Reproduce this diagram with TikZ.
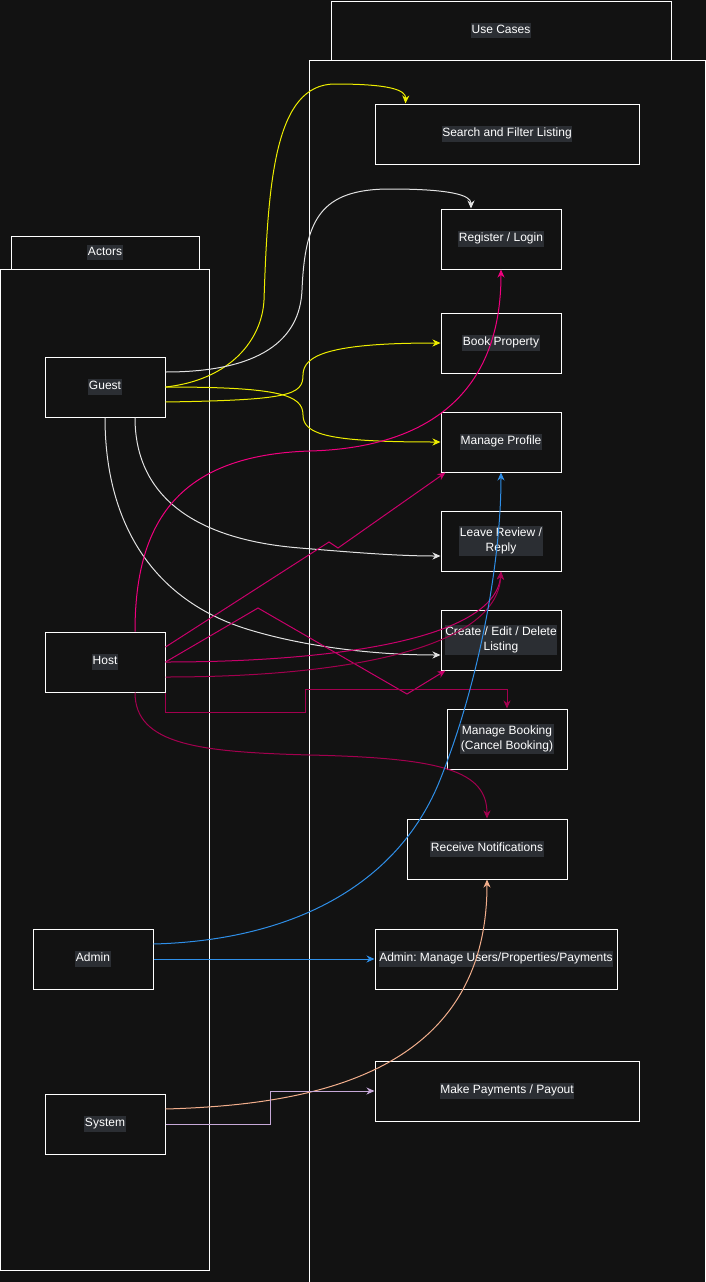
\documentclass[tikz,border=0pt]{standalone}
\usepackage{fontspec}
\setmainfont{Liberation Sans}
\usetikzlibrary{arrows.meta}
\frenchspacing
\definecolor{bgc}{HTML}{121212}
\definecolor{lblbg}{HTML}{2B2E33}
\definecolor{edgew}{HTML}{E2E2E2}
\definecolor{yel}{HTML}{EEEE00}
\definecolor{pinkA}{HTML}{F0007F}
\definecolor{pinkB}{HTML}{C8006A}
\definecolor{pinkC}{HTML}{A3004F}
\definecolor{blu}{HTML}{2F8FE8}
\definecolor{peach}{HTML}{F2AE8C}
\definecolor{lav}{HTML}{C6A8D8}
\newcommand{\lbl}[1]{{\setlength{\fboxsep}{0.6pt}\colorbox{lblbg}{\begin{tabular}{@{}c@{}}#1\end{tabular}}}}

\begin{document}
\begin{tikzpicture}[x=1pt,y=-1pt,font=\fontsize{12}{14.5}\selectfont,text=white,
  frame/.style={draw=white,fill=bgc,line width=1pt,inner sep=0pt},
  uc/.style={frame,minimum width=120pt,minimum height=60pt},
  link/.style={line width=1pt,-{Stealth[length=8pt,width=7pt,inset=2.5pt]}}]
  \useasboundingbox (0,0) rectangle (706,1282);
  \fill[bgc] (0,0) rectangle (706,1282);
  \clip (0,0) rectangle (706,1282);

  % swimlanes
  \node[frame,minimum width=396pt,minimum height=1230pt] (uclane) at (507,675) {};
  \node[frame,minimum width=340pt,minimum height=59pt] (uchead) at (501,30.5) {\lbl{Use Cases}};
  \node[frame,minimum width=209pt,minimum height=1001pt] (actlane) at (105,769.5) {};
  \node[frame,minimum width=188pt,minimum height=33pt] (acthead) at (105,252.5) {\lbl{Actors}};

  % actors
  \node[uc] (guest) at (105,387) {\lbl{Guest}};
  \node[uc] (host) at (105,662) {\lbl{Host}};
  \node[uc] (admin) at (93,959) {\lbl{Admin}};
  \node[uc] (system) at (105,1124) {\lbl{System}};

  % use cases
  \node[uc,minimum width=264pt] (search) at (507,134) {\lbl{Search and Filter Listing}};
  \node[uc] (register) at (501,239) {\lbl{Register / Login}};
  \node[uc] (book) at (501,343) {\lbl{Book Property}};
  \node[uc] (profile) at (501,442) {\lbl{Manage Profile}};
  \node[uc] (review) at (501,541) {\lbl{Leave Review /\\Reply}};
  \node[uc] (listing) at (501,640) {\lbl{Create / Edit / Delete\\Listing}};
  \node[uc] (booking) at (507,739) {\lbl{Manage Booking\\(Cancel Booking)}};
  \node[uc,minimum width=160pt] (notify) at (487,849) {\lbl{Receive Notifications}};
  \node[uc,minimum width=242pt] (adminuc) at (496,959) {\lbl{Admin: Manage Users/Properties/Payments}};
  \node[uc,minimum width=264pt] (payments) at (507,1091) {\lbl{Make Payments / Payout}};

  % guest
  \draw[link,yel] (guest.east) .. controls (230,380) and (262,340) .. (264,300)
    .. controls (268,180) and (275,84) .. (335,84) .. controls (390,84) and (406,90) .. ([xshift=31pt]search.north west);
  \draw[link,edgew] ([yshift=15pt]guest.east) .. controls (260,372) and (300,340) .. (302,290)
    .. controls (305,220) and (320,189) .. (390,189) .. controls (450,189) and (471,195) .. ([xshift=-30pt]register.north);
  \draw[link,yel] ([yshift=-15pt]guest.east) .. controls (290,400) and (303,395) .. (303,375)
    .. controls (303,355) and (330,343) .. (book.west);
  \draw[link,yel] (guest.east) .. controls (280,387) and (303,395) .. (303,415)
    .. controls (303,435) and (330,442) .. (profile.west);
  \draw[link,edgew] ([xshift=30pt]guest.south) .. controls (135,500) and (200,540) .. (300,548)
    .. controls (360,553) and (400,556) .. ([yshift=-15pt]review.west);
  \draw[link,edgew] (guest.south) .. controls (105,520) and (150,600) .. (250,630)
    .. controls (310,648) and (380,655) .. ([yshift=-15pt]listing.west);

  % host
  \draw[link,pinkA] ([xshift=30pt]host.north) .. controls (135,520) and (180,455) .. (310,451)
    .. controls (420,448) and (501,400) .. (register.south);
  \draw[link,pinkB] ([yshift=15pt]host.east) -- (329,542) -- (338,548) -- ([xshift=5pt]profile.south west);
  \draw[link,pinkB] (host.east) -- (258,608) -- (407,694) -- ([xshift=5pt]listing.south west);
  \draw[link,pinkB] (host.east) .. controls (330,662) and (495,640) .. (review.south);
  \draw[link,pinkC] ([yshift=-15pt]host.east) .. controls (340,677) and (497,650) .. (review.south);
  \draw[link,pinkC] (host.south east) -- ++(0,20) -| (305,689) -| (booking.north);
  \draw[link,pinkC] ([xshift=30pt]host.south) .. controls (135,745) and (200,752) .. (310,755)
    .. controls (440,758) and (487,770) .. (notify.north);

  % admin
  \draw[link,blu] ([yshift=15pt]admin.east) .. controls (300,940) and (400,880) .. (440,780)
    .. controls (480,680) and (501,560) .. (profile.south);
  \draw[link,blu] (admin.east) -- (adminuc.west);

  % system
  \draw[link,peach] ([yshift=15pt]system.east) .. controls (300,1105) and (487,1080) .. (notify.south);
  \draw[link,lav] (system.east) -- ++(105,0) |- (payments.west);
\end{tikzpicture}
\end{document}
